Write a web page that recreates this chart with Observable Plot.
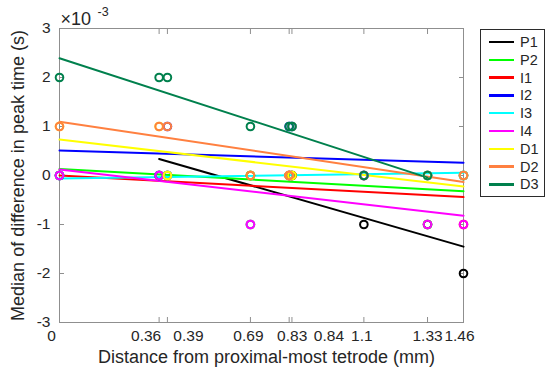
<!DOCTYPE html>
<html>
<head>
<meta charset="utf-8">
<script src="https://cdn.jsdelivr.net/npm/d3@7"></script>
<script src="https://cdn.jsdelivr.net/npm/@observablehq/plot@0.6"></script>
<style>
  body { margin: 0; background: #fff; font-family: "Liberation Sans", Arial, sans-serif; }
  #fig { position: relative; width: 551px; height: 377px; }
  #legend {
    position: absolute; left: 480px; top: 29px; width: 65px; height: 168px;
    box-sizing: border-box; border: 1px solid #2b2b2b; background: #fff;
  }
  .entry { position: absolute; left: 0; height: 16px; display: flex; align-items: center; }
  .entry span.sw { display: inline-block; width: 25px; height: 2.5px; margin-left: 8px; margin-right: 6px; }
  .entry span.lb { font-size: 14.5px; color: #262626; }
</style>
</head>
<body>
<div id="fig"></div>
<script>
// Tetrode distances from the proximal-most tetrode (mm)
const distances = [0, 0.36, 0.39, 0.69, 0.83, 0.84, 1.1, 1.33, 1.46];

// Reference tetrodes, one series each
const seriesNames = ["P1", "P2", "I1", "I2", "I3", "I4", "D1", "D2", "D3"];

// Median difference in peak time (s), one value per distance; null = the reference itself
const P1 = [null, 0, 0, 0, 0, 0, -0.001, -0.001, -0.002];
const P2 = [0, null, 0, 0, 0, 0, 0, -0.001, 0];
const I1 = [0, 0, null, -0.001, 0, 0, 0, 0, -0.001];
const I2 = [0, 0, 0.001, null, 0.001, 0.001, 0, 0, 0];
const I3 = [0, 0, 0, -0.001, null, 0.001, 0, 0, 0];
const I4 = [0, 0, 0, -0.001, 0, null, 0, -0.001, -0.001];
const D1 = [0.001, 0.001, 0, 0, 0, 0, null, 0, 0];
const D2 = [0.001, 0.001, 0.001, 0, 0, 0.001, 0, null, 0];
const D3 = [0.002, 0.002, 0.002, 0.001, 0.001, 0.001, 0, 0, null];

const yTicks = [-0.003, -0.002, -0.001, 0, 0.001, 0.002, 0.003];

const seriesValues = [P1, P2, I1, I2, I3, I4, D1, D2, D3];
const seriesColors = ["#000000", "#00ff00", "#ff0000", "#0000ff", "#00ffff",
                      "#ff00ff", "#ffff00", "#ff8040", "#00804d"];

const rows = seriesNames.flatMap((name, i) =>
  distances.map((d, j) => ({series: name, distance: d, value: seriesValues[i][j]}))
           .filter(r => r.value != null));

const axisGray = "#8f8f8f";
const ink = "#262626";
const font = '"Liberation Sans", Arial, sans-serif';

// crowded distance labels are pushed apart horizontally
const labelShift = {0: -8, 0.36: -13, 0.39: 21, 0.69: -2, 0.83: 3, 0.84: 37, 1.1: -2, 1.33: 0, 1.46: -4};

const chart = Plot.plot({
  width: 551,
  height: 377,
  marginLeft: 59,
  marginRight: 88,
  marginTop: 28,
  marginBottom: 55,
  style: {fontFamily: font, fontSize: "15px", color: ink, background: "white", overflow: "visible"},
  x: {domain: [0, 1.46]},
  y: {domain: [-0.003, 0.003]},
  color: {domain: seriesNames, range: seriesColors},
  marks: [
    Plot.frame({stroke: axisGray}),
    // inward ticks on all four sides
    Plot.axisX({anchor: "bottom", ticks: distances, tickSize: -5, tickFormat: () => "", stroke: axisGray, label: null}),
    Plot.axisX({anchor: "top", ticks: distances, tickSize: -5, tickFormat: () => "", stroke: axisGray, label: null}),
    Plot.axisY({anchor: "left", ticks: yTicks, tickSize: -5, tickFormat: () => "", stroke: axisGray, label: null}),
    Plot.axisY({anchor: "right", ticks: yTicks, tickSize: -5, tickFormat: () => "", stroke: axisGray, label: null}),
    // y tick labels in units of 10^-3 s
    Plot.axisY({anchor: "left", ticks: yTicks, tickSize: 0, tickPadding: 9, fontSize: 15.5, fill: ink,
                tickFormat: d => String(Math.round(d * 1000)), label: null}),
    // distance labels
    ...distances.map(d => Plot.text([d], {
      x: d => d, frameAnchor: "bottom", dy: 14, dx: labelShift[d],
      text: d => String(d), lineAnchor: "middle", fontSize: 15.5, fill: ink
    })),
    // axis titles
    Plot.text(["Distance from proximal-most tetrode (mm)"], {
      frameAnchor: "bottom", dx: 5, dy: 35, textAnchor: "middle", lineAnchor: "middle", fontSize: 18, fill: ink
    }),
    Plot.text(["Median of difference in peak time (s)"], {
      frameAnchor: "left", dx: -41, rotate: -90, textAnchor: "middle", lineAnchor: "middle", fontSize: 18, fill: ink
    }),
    // exponent of the y axis
    Plot.text(["\u00d710"], {frameAnchor: "top-left", dx: 1, dy: -4, textAnchor: "start", lineAnchor: "bottom", fontSize: 18, fill: ink}),
    Plot.text(["-3"], {frameAnchor: "top-left", dx: 38, dy: -13, textAnchor: "start", lineAnchor: "bottom", fontSize: 12.5, fill: ink}),
    // least-squares fit for each series
    Plot.linearRegressionY(rows, {x: "distance", y: "value", stroke: "series", ci: 0, strokeWidth: 2}),
    // medians
    Plot.dot(rows, {x: "distance", y: "value", stroke: "series", r: 3.8, strokeWidth: 2, fill: "none"})
  ]
});

const fig = document.getElementById("fig");
fig.appendChild(chart);

// legend box on the right
const legend = document.createElement("div");
legend.id = "legend";
seriesNames.forEach((name, i) => {
  const e = document.createElement("div");
  e.className = "entry";
  e.style.top = (4 + i * 17.8) + "px";
  e.innerHTML = `<span class="sw" style="background:${seriesColors[i]}"></span><span class="lb">${name}</span>`;
  legend.appendChild(e);
});
fig.appendChild(legend);
</script>
</body>
</html>
